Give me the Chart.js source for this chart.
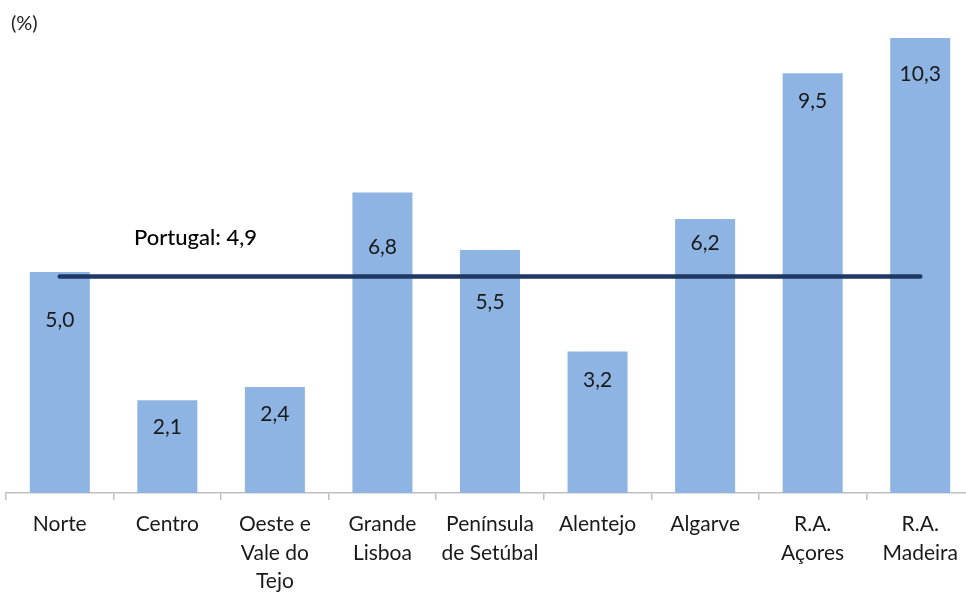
<!DOCTYPE html>
<html><head><meta charset="utf-8">
<script src="https://cdn.jsdelivr.net/npm/chart.js@4.4.1/dist/chart.umd.min.js"></script>
<style>
html,body{margin:0;padding:0;background:#fff;overflow:hidden;width:966px;height:592px}
#wrap{position:absolute;left:0;top:0;width:976px;height:610px}
</style></head>
<body>
<div id="wrap"><canvas id="c" width="976" height="610"></canvas></div>
<script>
const categories = [["Norte"],["Centro"],["Oeste e","Vale do","Tejo"],["Grande","Lisboa"],["Península","de Setúbal"],["Alentejo"],["Algarve"],["R.A.","Açores"],["R.A.","Madeira"]];
const values = [5.0, 2.1, 2.4, 6.8, 5.5, 3.2, 6.2, 9.5, 10.3];
const portugal = 4.9;
const portugalLabel = "Portugal: 4,9";
const unitLabel = "(%)";
const labelOffsets = [48, 27, 27, 55, 52, 29, 24, 28, 36];

const FONT = "Lato, 'Open Sans', sans-serif";
const fmt = v => v.toFixed(1).replace('.', ',');

const labelsPlugin = {
  id: 'labelsPlugin',
  afterDatasetsDraw(chart) {
    const ctx = chart.ctx;
    const meta = chart.getDatasetMeta(1);
    ctx.save();
    ctx.font = "21px " + FONT;
    ctx.fillStyle = "#1a1a1a";
    ctx.textAlign = "center";
    ctx.textBaseline = "middle";
    meta.data.forEach((bar, i) => {
      ctx.fillText(fmt(values[i]), bar.x, bar.y + labelOffsets[i]);
    });
    const y = chart.scales.y.getPixelForValue(portugal);
    ctx.textAlign = "left";
    ctx.fillStyle = "#000";
    ctx.font = "500 22px " + FONT;
    ctx.fillText(portugalLabel, 134, y - 39);
    ctx.font = "20px " + FONT;
    ctx.fillStyle = "#222";
    ctx.fillText(unitLabel, 11, 24);
    ctx.restore();
  }
};

new Chart(document.getElementById('c'), {
  data: {
    labels: categories,
    datasets: [
      { type: 'line', data: values.map(() => portugal), borderColor: '#1F3864', borderWidth: 4.5,
        pointRadius: 0, borderCapStyle: 'round', order: 0, fill: false },
      { type: 'bar', data: values, backgroundColor: '#8EB4E3', barPercentage: 0.558,
        categoryPercentage: 1, order: 1 }
    ]
  },
  options: {
    responsive: false,
    animation: false,
    layout: { padding: { left: 6, top: 7, right: 2, bottom: 0 } },
    plugins: { legend: { display: false }, tooltip: { enabled: false } },
    scales: {
      y: { display: false, min: 0, max: 11 },
      x: {
        offset: true,
        grid: { display: true, drawOnChartArea: false, offset: true, tickLength: 7, color: '#bfbfbf', lineWidth: 1.5 },
        border: { display: true, color: '#bfbfbf', width: 1.5 },
        ticks: { font: { family: FONT, size: 21, lineHeight: 1.36 }, color: '#1a1a1a', padding: 10, maxRotation: 0, autoSkip: false },
        afterFit(scale) { scale.height = 117; }
      }
    }
  },
  plugins: [labelsPlugin]
});
</script>
</body></html>
